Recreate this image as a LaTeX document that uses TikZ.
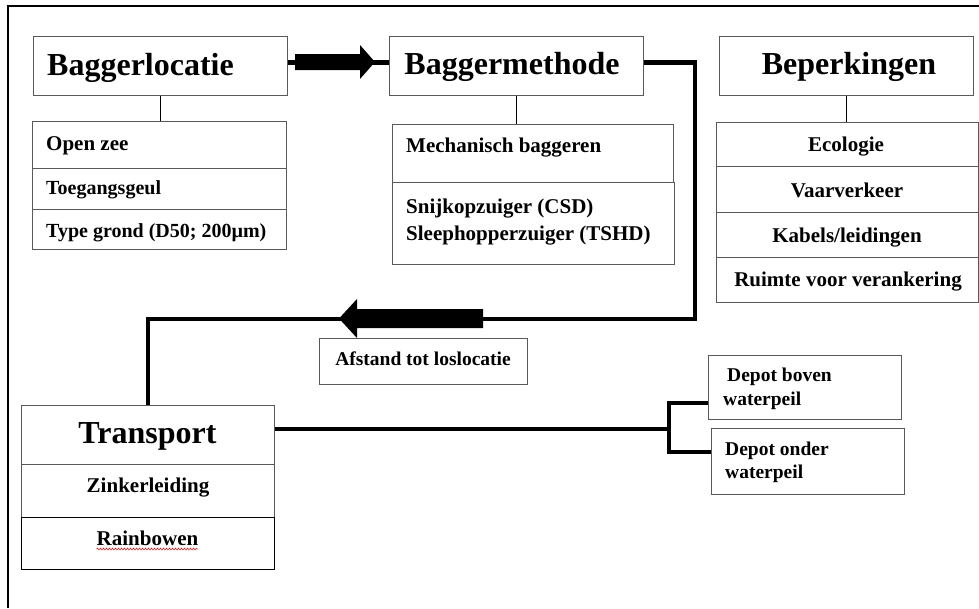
\documentclass[tikz,border=0pt]{standalone}
\usepackage{fontspec}
\setmainfont{Liberation Serif}
\usetikzlibrary{decorations.pathmorphing}
\begin{document}
\begin{tikzpicture}[x=1pt,y=-1pt,
        box/.style={draw=black!65,line width=1pt,inner sep=0pt,anchor=north west},
        txt/.style={inner sep=0pt,font=\bfseries\fontsize{21}{25}\selectfont},
        lijst/.style={txt,font=\bfseries\fontsize{20}{24}\selectfont},
        kop/.style={txt,font=\bfseries\fontsize{32}{38}\selectfont},
        klein/.style={txt,font=\bfseries\fontsize{19.5}{24}\selectfont},
        link/.style={line width=1pt},
        flow/.style={line width=4.5pt}]
        \useasboundingbox (0,0) rectangle (979,608);
        \draw[line width=2pt] (979,6) -- (8,6) -- (8,608);
        \node[box,minimum width=254pt,minimum height=59pt] (locatie) at (33,36) {};
        \node[box,minimum width=254pt,minimum height=47pt] (open) at (32,121) {};
        \node[box,minimum width=254pt,minimum height=41pt] (geul) at (32,168) {};
        \node[box,minimum width=254pt,minimum height=40pt] (grond) at (32,209) {};
        \node[box,minimum width=254pt,minimum height=59pt] (methode) at (389,36) {};
        \node[box,minimum width=281pt,minimum height=58pt] (mech) at (392,124) {};
        \node[box,minimum width=282pt,minimum height=82pt] (zuiger) at (392,182) {};
        \node[box,minimum width=254pt,minimum height=59pt] (beperk) at (719,36) {};
        \node[box,minimum width=262pt,minimum height=44pt] (eco) at (716,122) {};
        \node[box,minimum width=262pt,minimum height=46pt] (vaart) at (716,166) {};
        \node[box,minimum width=262pt,minimum height=45pt] (kabel) at (716,212) {};
        \node[box,minimum width=262pt,minimum height=45pt] (ruimte) at (716,257) {};
        \node[box,minimum width=208pt,minimum height=46pt] (afstand) at (319,338) {};
        \node[box,minimum width=253pt,minimum height=59pt] (transport) at (21,405) {};
        \node[box,minimum width=253pt,minimum height=53pt] (zinker) at (21,464) {};
        \node[box,draw=black,line width=1.3pt,minimum width=253pt,minimum height=52pt] (rainbow) at (21,517) {};
        \node[box,minimum width=193pt,minimum height=64pt] (boven) at (708,355) {};
        \node[box,minimum width=193pt,minimum height=66pt] (onder) at (711,428) {};
        \node[kop,anchor=base west] (t-locatie) at (47,75) {Baggerlocatie};
        \node[kop,anchor=base] (t-methode) at (512,74) {Baggermethode};
        \node[kop,anchor=base] (t-beperk) at (849,74) {Beperkingen};
        \node[kop,anchor=base] (t-transport) at (147.5,443) {Transport};
        \node[txt,anchor=base west] (t-open) at (46,150) {Open zee};
        \node[lijst,anchor=base west] (t-geul) at (46,194) {Toegangsgeul};
        \node[lijst,anchor=base west] (t-grond) at (46,237) {Type grond (D50; 200µm)};
        \node[txt,anchor=base west] (t-mech) at (406,152) {Mechanisch baggeren};
        \node[txt,font=\bfseries\fontsize{21}{27}\selectfont,anchor=base west,align=left] (t-zuiger) at (406,240) {Snijkopzuiger (CSD)\\Sleephopperzuiger (TSHD)};
        \node[txt,anchor=base] (t-eco) at (846,151) {Ecologie};
        \node[txt,anchor=base] (t-vaart) at (847,197) {Vaarverkeer};
        \node[txt,anchor=base] (t-kabel) at (847,242) {Kabels/leidingen};
        \node[txt,anchor=base] (t-ruimte) at (848,286) {Ruimte voor verankering};
        \node[klein,anchor=base] (t-afstand) at (423,365) {Afstand tot loslocatie};
        \node[txt,anchor=base] (t-zinker) at (148,492) {Zinkerleiding};
        \node[txt,anchor=base] (t-rain) at (147.5,545) {Rainbowen};
        \node[klein,anchor=base west,align=left] (t-boven) at (723,405) {\kern4pt Depot boven\\waterpeil};
        \node[klein,font=\bfseries\fontsize{19.5}{23}\selectfont,anchor=base west,align=left] (t-onder) at (725,478) {Depot onder\\waterpeil};
        \draw[red,line width=0.5pt,decorate,decoration={snake,amplitude=0.9pt,segment length=3pt}] ([yshift=-4pt]t-rain.base west) -- ([yshift=-4pt]t-rain.base east);
        \draw[link] (locatie.south) -- (locatie.south |- open.north);
        \draw[link] (methode.south) -- (methode.south |- mech.north);
        \draw[link] (beperk.south) -- (beperk.south |- eco.north);
        \draw[flow] ([yshift=3.5pt]locatie.east) -- ([yshift=3.5pt]methode.west);
        \fill (295,54) -- (360,54) -- (360,45) -- (375,62) -- (360,79) -- (360,70) -- (295,70) -- cycle;
        \coordinate (keer) at (695,319);
        \draw[flow] ([yshift=3.5pt]methode.east) -| (keer) -- (keer -| transport.north) -- (transport.north);
        \fill (483,309) -- (357,309) -- (357,299) -- (339,318.5) -- (357,338) -- (357,328) -- (483,328) -- cycle;
        \coordinate (splits) at (669,429);
        \coordinate (tak-b) at (669,403);
        \coordinate (tak-o) at (669,452);
        \draw[flow] (transport.east |- splits) -- (splits);
        \draw[flow] (boven.west |- tak-b) -- (tak-b) -- (tak-o) -- (onder.west |- tak-o);
    \end{tikzpicture}
\end{document}
